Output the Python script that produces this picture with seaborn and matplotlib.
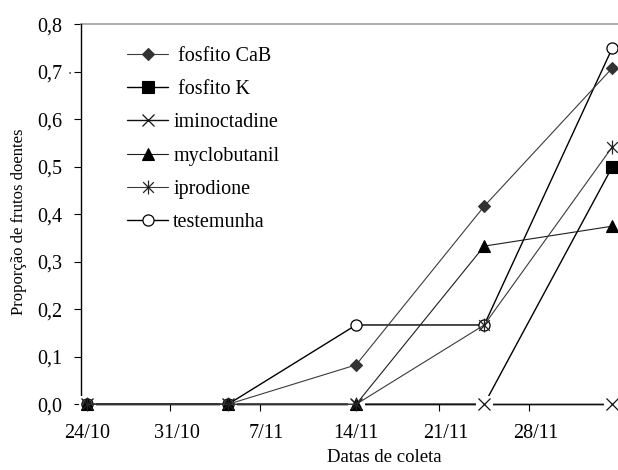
import datetime as dt

import matplotlib
matplotlib.use("Agg")
import matplotlib.pyplot as plt
import matplotlib.dates as mdates
from matplotlib.path import Path
from matplotlib.ticker import FixedLocator, FuncFormatter, NullFormatter
import pandas as pd
import seaborn as sns

# Collection dates and proportion of diseased fruits per treatment
datas = ["2011-10-24", "2011-11-04", "2011-11-14", "2011-11-24", "2011-12-04"]
fosfito_cab = [0.0, 0.0, 0.083, 0.417, 0.708]
fosfito_k = [0.0, 0.0, 0.0, 0.0, 0.5]
iminoctadine = [0.0, 0.0, 0.0, 0.0, 0.0]
myclobutanil = [0.0, 0.0, 0.0, 0.333, 0.375]
iprodione = [0.0, 0.0, 0.0, 0.167, 0.542]
testemunha = [0.0, 0.0, 0.167, 0.167, 0.75]

tratamentos = [" fosfito CaB", " fosfito K", "iminoctadine", "myclobutanil",
               "iprodione", "testemunha"]
valores = [fosfito_cab, fosfito_k, iminoctadine, myclobutanil, iprodione, testemunha]

y_ticks = [0.0, 0.1, 0.2, 0.3, 0.4, 0.5, 0.6, 0.7, 0.8]
x_tick_labels = ["24/10", "31/10", "7/11", "14/11", "21/11", "28/11"]

# Asterisk marker: an "x" crossed by a vertical stroke
asterisco = Path(
    [(-1, -1), (1, 1), (-1, 1), (1, -1), (0, -1.3), (0, 1.3)],
    [Path.MOVETO, Path.LINETO, Path.MOVETO, Path.LINETO, Path.MOVETO, Path.LINETO],
)

# style per treatment; z sets the stacking order of overlapping markers
estilos = [
    dict(marker="D", ms=6.2, color="#3c3c3c", mfc="#333333", mec="#333333", lw=0.8, z=3.4),
    dict(marker="s", ms=8, color="black", mfc="black", mec="black", lw=1.0, z=3.0),
    dict(marker="x", ms=8.5, color="#111111", mfc="none", mec="#111111", lw=1.0, mew=0.9, z=3.1),
    dict(marker="^", ms=8.5, color="#1e1e1e", mfc="black", mec="black", lw=0.8, z=3.5),
    dict(marker=asterisco, ms=10, color="#3a3a3a", mfc="none", mec="#222222", lw=0.8, mew=0.9, z=3.6),
    dict(marker="o", ms=8, color="black", mfc="white", mec="black", lw=1.0, mew=0.9, z=3.3),
]

sns.set_theme(style="white")
plt.rcParams["font.family"] = ["Liberation Serif", "DejaVu Serif"]

fig = plt.figure(figsize=(6.18, 4.70), dpi=100)
W, H = 618.0, 470.0
left, right = 80.7, 618.7
bottom, top = 470 - 404.3, 470 - 24.3
ax = fig.add_axes([left / W, bottom / H, (right - left) / W, (top - bottom) / H])

x_vals = [pd.Timestamp(d) + pd.Timedelta(hours=12) for d in datas]

handles = []
for nome, vals, est in zip(tratamentos, valores, estilos):
    df = pd.DataFrame({"data": x_vals, "prop": vals})
    sns.lineplot(
        data=df, x="data", y="prop", ax=ax, label=nome,
        marker=est["marker"], markersize=est["ms"], color=est["color"],
        markerfacecolor=est["mfc"], markeredgecolor=est["mec"],
        markeredgewidth=est.get("mew", 0.8), linewidth=est["lw"],
        clip_on=False, zorder=est["z"],
    )
    handles.append(ax.lines[-1])
    if est["marker"] == "x":
        # the cross markers sit on an opaque white patch that masks what lies beneath
        sns.lineplot(
            data=df, x="data", y="prop", ax=ax, marker="s", markersize=11,
            markerfacecolor="white", markeredgecolor="white", linestyle="none",
            clip_on=False, zorder=est["z"] + 0.01,
        )
        sns.lineplot(
            data=df, x="data", y="prop", ax=ax, marker="x", markersize=est["ms"],
            markeredgecolor=est["mec"], markeredgewidth=est["mew"], linestyle="none",
            clip_on=False, zorder=est["z"] + 0.02,
        )

ax.set_xlim(mdates.date2num(dt.datetime(2011, 10, 24)),
            mdates.date2num(dt.datetime(2011, 12, 5)))
ax.set_ylim(0, 0.8)

# Major ticks at midnight (marks only), minor ticks at noon carry the labels
major = [mdates.date2num(dt.datetime(2011, 10, 24) + dt.timedelta(days=7 * i)) for i in range(6)]
minor = [m + 0.5 for m in major]
ax.xaxis.set_major_locator(FixedLocator(major))
ax.xaxis.set_major_formatter(NullFormatter())
ax.xaxis.set_minor_locator(FixedLocator(minor))
ax.xaxis.set_minor_formatter(FuncFormatter(lambda v, p: x_tick_labels[p] if p is not None and p < len(x_tick_labels) else ""))
ax.tick_params(axis="x", which="major", direction="out", length=5, width=0.8,
               color="black", bottom=True)
ax.tick_params(axis="x", which="minor", length=0, pad=14, labelsize=14.5,
               labelcolor="black", bottom=True)

ax.set_yticks(y_ticks)
ax.set_yticklabels([f"{v:.1f}".replace(".", ",") for v in y_ticks])
ax.tick_params(axis="y", direction="out", length=5, width=0.8, color="black",
               left=True, pad=8, labelsize=14.5, labelcolor="black")

for lado in ("left", "bottom"):
    ax.spines[lado].set_color("black")
    ax.spines[lado].set_linewidth(1.0)
    ax.spines[lado].set_zorder(3.05)
ax.spines["top"].set_color("#a0a0a0")
ax.spines["top"].set_linewidth(1.2)
ax.spines["right"].set_visible(False)

ax.set_xlabel("Datas de coleta", fontsize=13.5, color="black")
ax.xaxis.set_label_coords((384.5 - left) / (right - left), -0.117)
ax.set_ylabel("Proporção de frutos doentes", fontsize=12, color="black")
ax.yaxis.set_label_coords((27 - left) / (right - left), 0.48)

fig.text(70 / W, 1 - 70 / H, ".", fontsize=12, color="#555555", ha="center", va="center")

leg = ax.legend(
    handles, tratamentos,
    loc="upper left", bbox_to_anchor=(127 / W, 1 - 47 / H), bbox_transform=fig.transFigure,
    frameon=False, fontsize=14.5, handlelength=2.05, handletextpad=0.25,
    labelspacing=0.7, borderaxespad=0, borderpad=0,
)
for t in leg.get_texts():
    t.set_color("black")

fig.savefig("out.png", dpi=100)
